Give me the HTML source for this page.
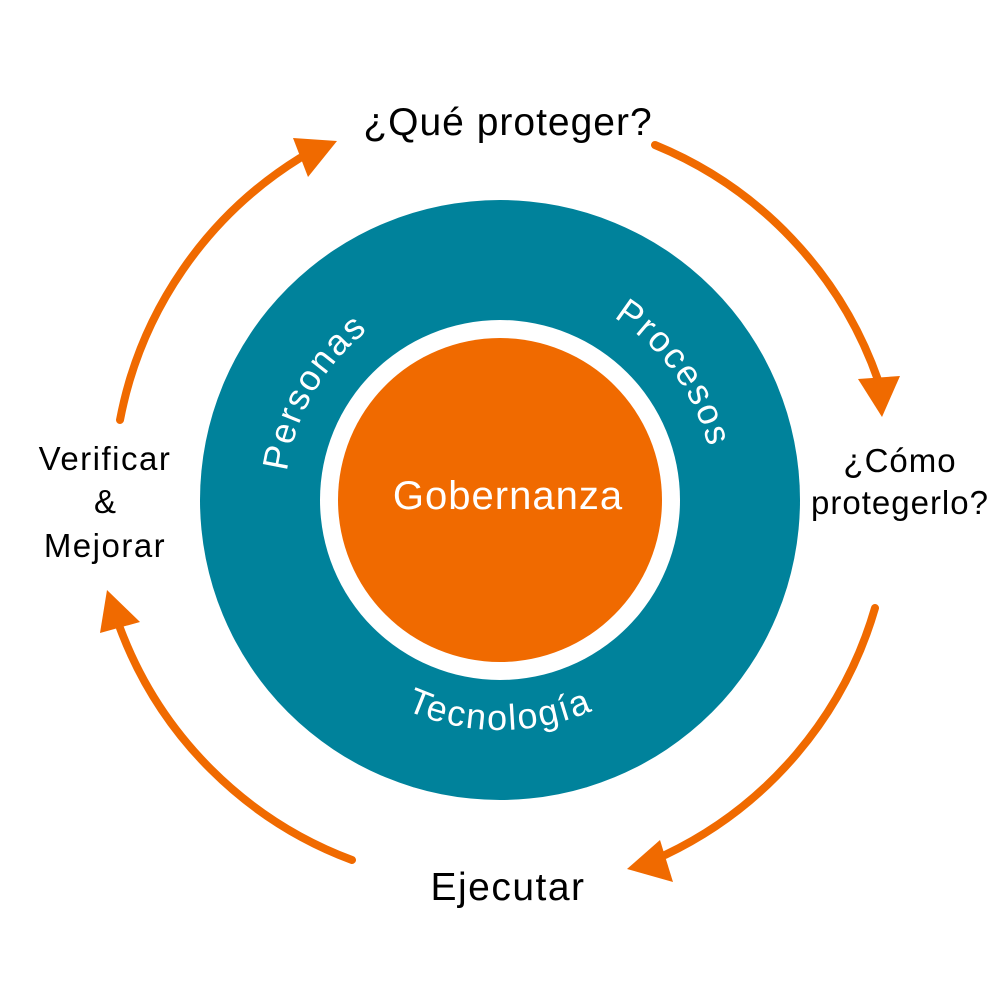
<!DOCTYPE html>
<html><head><meta charset="utf-8"><style>
html,body{margin:0;padding:0;background:#fff;}
svg{display:block}
text{font-family:"Liberation Sans",sans-serif;}
</style></head><body>
<svg width="1000" height="1000" viewBox="0 0 1000 1000" xmlns="http://www.w3.org/2000/svg">
<defs>
<path id="pPer" d="M314,607.5 A215,215 0 0 1 500,285"/>
<path id="pPro" d="M477.5,286.2 A215,215 0 0 1 696.4,587.4"/>
<path id="pTec" d="M270,500 A230,230 0 0 0 730,500"/>
</defs>
<circle cx="500" cy="500" r="300" fill="#00829B"/>
<circle cx="500" cy="500" r="180" fill="#fff"/>
<circle cx="500" cy="500" r="162" fill="#F06A00"/>
<text font-size="40" fill="#fff" text-anchor="middle" x="508" y="509" letter-spacing="1">Gobernanza</text>
<g font-size="36" fill="#fff" letter-spacing="2">
<text><textPath href="#pPer" startOffset="50%" text-anchor="middle">Personas</textPath></text>
<text><textPath href="#pPro" startOffset="50%" text-anchor="middle">Procesos</textPath></text>
<text><textPath href="#pTec" startOffset="50%" text-anchor="middle">Tecnología</textPath></text>
</g>
<g fill="none" stroke="#F06A00" stroke-linecap="round">
<path d="M655,145 A395,395 0 0 1 878,380" stroke-width="8"/>
<path d="M875,608 A395,395 0 0 1 665,855" stroke-width="8"/>
<path d="M352,860 A395,395 0 0 1 120,628" stroke-width="8"/>
<path d="M120,420 A395,395 0 0 1 300,158" stroke-width="8"/>
</g>
<g fill="#F06A00">
<polygon points="858,379 900,376 882,417"/>
<polygon points="660,840 673,882 627,869"/>
<polygon points="100,633 140,622 107,590"/>
<polygon points="293,138 308,177 337,141"/>
</g>
<g fill="#000" text-anchor="middle">
<text font-size="39" x="508" y="135" letter-spacing="1">¿Qué proteger?</text>
<text font-size="39" x="508" y="900" letter-spacing="1.5">Ejecutar</text>
<text font-size="33" x="900" y="472" letter-spacing="1">¿Cómo</text>
<text font-size="33" x="900" y="514" letter-spacing="1">protegerlo?</text>
<text font-size="33" x="105" y="470" letter-spacing="1.5">Verificar</text>
<text font-size="33" x="105" y="513">&amp;</text>
<text font-size="33" x="105" y="557" letter-spacing="1.5">Mejorar</text>
</g>
</svg>
</body></html>
